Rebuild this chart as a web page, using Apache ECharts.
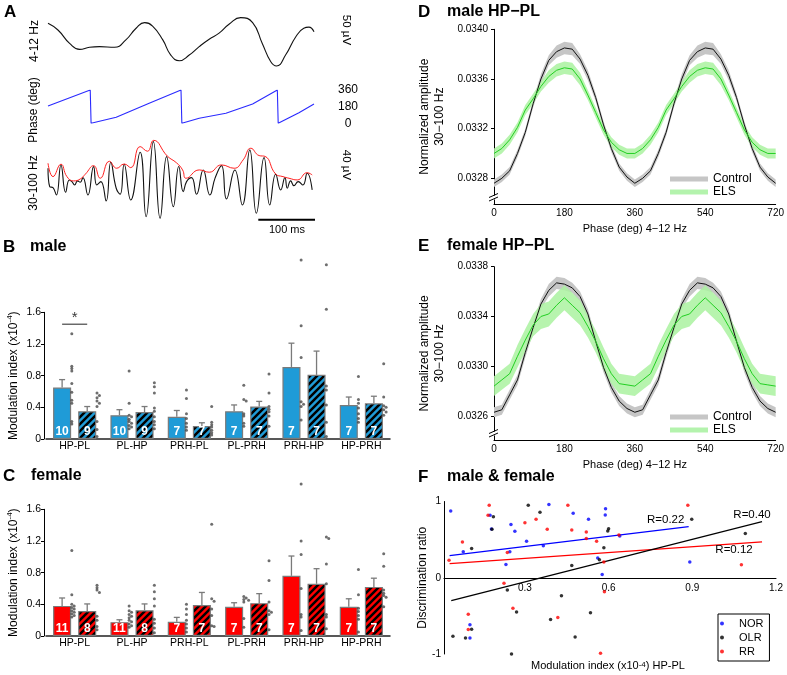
<!DOCTYPE html>
<html>
<head>
<meta charset="utf-8">
<script src="https://cdn.jsdelivr.net/npm/echarts@6.0.0/dist/echarts.min.js"></script>
<style>
html,body{margin:0;padding:0;background:#fff;}
#chart{width:787px;height:675px;}
</style>
</head>
<body>
<div id="chart"></div>
<script>
// ================= DATA =================
// ---- Panel A: example traces (time in ms, amplitude in µV, phase in deg)
const lowTimeMs = [0,17.5,38,55.6,73,90.6,117,137,155,170,184,202,216,231,248.5,266,283.6,301,319,339,360,377,392,402,418,436,450,459,468];
const lowUV     = [52,33,-5,-22,-16,-14,-16,5,38,54,44,5,-38,-54,-38,-14,7,24,50,68,54,-5,-57,-69,-38,14,38,41,28];
const phaseTimeMs = [0,74.3,75.8,120,178,234,235.5,266,313,360,403.5,405,441.5,468];
const phaseDeg    = [187,360,0,65,216,360,0,54,108,209,360,0,115,209];
const gammaTimeMs = [0,3.0,8.8,14.7,22.8,31.0,37.5,42.1,46.8,52.1,56.8,61.4,70.2,80.2,85.9,93.0,102.4,110.5,120.0,127.0,134.0,145.6,162.1,172.6,185.4,197.2,208.7,220.5,230.1,238.0,243.8,252.6,261.3,273.1,284.8,294.2,305.2,314.0,328.7,342.0,355.0,366.6,380.1,390.1,400.6,409.4,416.9,421.0,426.9,432.7,440.3,448.5,456.0,464.8];
const gammaUV     = [30.7,-3.1,-4.9,-18.4,36.8,-13.4,9.2,6.1,0,7.4,5.0,13.4,-18.4,33.7,0,6.1,-29.4,41.8,-6.1,-17.1,38.1,-27.6,60.2,-58.3,79.7,-61.3,52.1,-39.9,34.0,-12.3,6.1,13.4,-17.1,27.6,-18.4,13.4,35.5,-25.8,27.6,-36.8,64.4,-52.1,50.2,-36.8,19.7,-9.2,13.4,-6.1,7.4,-1.3,6.1,0,21.5,-9.2];
const envTimeMs = [0,8.8,22.8,33.3,45.1,56.8,65.6,80.2,91.9,108,121.0,134.0,145.6,162.1,175,186,210.0,226.3,236.8,242.8,266.1,283.6,305.2,327.5,343.3,356.8,371.4,381.9,400.6,413.4,424.0,438.5,456.0,464.8];
const envUV     = [39.9,15.3,38.1,15.3,7.4,11.0,19.7,35.5,12.3,43.5,30.7,38.5,31.8,70.5,62,82,53,40.5,27.6,12.3,27.6,23.4,36.8,30.7,46.0,67.5,54,52.5,20,15.3,12.3,9.2,22.5,18.4];
const phaseTicks = [0, 180, 360];
const scaleBarLowUV = 50, scaleBarGammaUV = 40, scaleBarMs = 100;

// ---- Panels B & C: modulation index (x10^-4)
const regions = ['HP-PL','PL-HP','PRH-PL','PL-PRH','PRH-HP','HP-PRH'];
const maleCtrlMean = [0.65,0.30,0.28,0.35,0.91,0.43];
const maleCtrlSem  = [0.10,0.07,0.08,0.08,0.30,0.10];
const maleElsMean  = [0.35,0.34,0.165,0.41,0.81,0.45];
const maleElsSem   = [0.06,0.07,0.04,0.065,0.30,0.09];
const maleCtrlN = [10,10,7,7,7,7];
const maleElsN  = [9,9,7,7,7,7];
const maleCtrlDots = [
  [1.33,0.92,0.89,0.86,0.70,0.59,0.49,0.45,0.22,0.19],
  [0.86,0.45,0.30,0.28,0.25,0.22,0.20,0.17,0.15,0.13],
  [0.62,0.51,0.32,0.26,0.20,0.15,0.11],
  [0.68,0.50,0.48,0.32,0.29,0.20,0.16],
  [2.26,1.43,1.03,0.47,0.44,0.41,0.24],
  [0.79,0.50,0.45,0.39,0.32,0.26,0.21]];
const maleElsDots = [
  [0.58,0.55,0.52,0.48,0.45,0.41,0.22,0.12,0.03],
  [0.71,0.66,0.58,0.39,0.35,0.28,0.22,0.18,0.13],
  [0.41,0.21,0.18,0.15,0.11,0.08,0.05],
  [0.82,0.58,0.41,0.375,0.345,0.29,0.16],
  [2.20,1.64,0.67,0.62,0.43,0.21,0.03],
  [0.95,0.53,0.42,0.40,0.37,0.34,0.30]];
const femCtrlMean = [0.38,0.175,0.18,0.37,0.76,0.37];
const femCtrlSem  = [0.10,0.03,0.055,0.05,0.25,0.10];
const femElsMean  = [0.315,0.325,0.39,0.415,0.66,0.62];
const femElsSem   = [0.09,0.08,0.16,0.12,0.19,0.11];
const femCtrlN = [11,11,7,7,7,7];
const femElsN  = [8,8,7,7,7,7];
const femCtrlDots = [
  [1.08,0.52,0.40,0.38,0.36,0.34,0.32,0.30,0.28,0.26,0.24],
  [0.38,0.32,0.30,0.27,0.25,0.23,0.20,0.18,0.15,0.13,0.11],
  [0.40,0.34,0.27,0.20,0.15,0.10,0.05],
  [0.50,0.48,0.46,0.43,0.22,0.11,0.45],
  [1.92,1.20,1.03,0.60,0.27,0.24,0.07],
  [0.84,0.52,0.35,0.31,0.26,0.21,0.05]];
const femElsDots = [
  [0.64,0.61,0.58,0.55,0.25,0.20,0.12,0.08],
  [0.64,0.56,0.47,0.38,0.21,0.16,0.10,0.04],
  [1.41,0.47,0.44,0.34,0.26,0.13,0.12],
  [0.95,0.70,0.43,0.32,0.30,0.27,0.08],
  [1.25,1.23,0.91,0.66,0.27,0.24,0.09],
  [1.04,0.88,0.58,0.54,0.51,0.49,0.37]];
const sigLevelMale = 1.45;

// ---- Panels D & E: normalized gamma amplitude by theta phase (one cycle, 20° bins)
const phaseBins = [0,20,40,60,80,100,120,140,160,180,200,220,240,260,280,300,320,340];
const dCtrlMean = [0.03276,0.03280,0.03286,0.03300,0.03317,0.03340,0.03360,0.03375,0.03382,0.03385,0.03384,0.03376,0.03363,0.03345,0.03323,0.03304,0.03289,0.03281];
const dCtrlSem  = [0.00003,0.00003,0.00003,0.00003,0.00003,0.00003,0.00004,0.00004,0.00005,0.00005,0.00005,0.00004,0.00004,0.00003,0.00003,0.00003,0.00003,0.00003];
const dElsMean  = [0.03300,0.03304,0.03311,0.03321,0.03335,0.03344,0.03354,0.03362,0.03367,0.03369,0.03368,0.03360,0.03347,0.03333,0.03319,0.03309,0.03303,0.03300];
const dElsSem   = [0.00004,0.00004,0.00004,0.00004,0.00004,0.00004,0.00004,0.00005,0.00005,0.00005,0.00005,0.00005,0.00004,0.00004,0.00004,0.00004,0.00004,0.00004];
const eCtrlMean = [0.03263,0.03265,0.03277,0.03289,0.03311,0.03331,0.03350,0.03361,0.03367,0.03366,0.03363,0.03356,0.03342,0.03320,0.03299,0.03283,0.03272,0.03266];
const eCtrlSem  = [0.00004,0.00004,0.00004,0.00004,0.00004,0.00004,0.00004,0.00005,0.00005,0.00005,0.00004,0.00004,0.00004,0.00004,0.00004,0.00004,0.00004,0.00004];
const eElsMean  = [0.03284,0.03289,0.03294,0.03308,0.03321,0.03333,0.03340,0.03342,0.03349,0.03355,0.03349,0.03343,0.03332,0.03320,0.03306,0.03294,0.03286,0.03285];
const eElsSem   = [0.00008,0.00008,0.00008,0.00009,0.00009,0.00009,0.00010,0.00010,0.00010,0.00010,0.00010,0.00010,0.00009,0.00009,0.00009,0.00008,0.00008,0.00008];
const dTicks = [0.0328,0.0332,0.0336,0.0340];
const eTicks = [0.0326,0.0330,0.0334,0.0338];

// ---- Panel F: discrimination ratio vs modulation index
const norX = [0.034,0.079,0.175,0.18,0.25,0.264,0.246,0.232,0.306,0.386,0.366,0.473,0.528,0.589,0.588,0.561,0.577,0.64,0.891,0.103,0.103];
const norY = [0.875,0.34,0.82,0.64,0.70,0.61,0.34,0.175,0.48,0.96,0.42,0.845,0.766,0.906,0.823,0.26,0.044,0.547,0.206,-0.616,-0.79];
const olrX = [0.187,0.182,0.109,0.312,0.354,0.898,1.09,0.597,0.60,0.583,0.567,0.468,0.237,0.27,0.431,0.392,0.535,0.48,0.109,0.087,0.042,0.252];
const olrY = [0.80,0.635,0.385,0.95,0.86,0.766,0.58,0.613,0.643,0.394,0.236,0.162,-0.16,-0.45,-0.237,-0.547,-0.46,-0.776,-0.677,-0.79,-0.767,-1.0];
const rrX  = [0.028,0.076,0.172,0.168,0.237,0.30,0.34,0.38,0.454,0.468,0.52,0.52,0.557,0.583,0.637,0.884,1.076,0.225,0.097,0.097,0.257,0.418,0.585,0.571];
const rrY  = [0.23,0.47,0.95,0.82,0.33,0.72,0.766,0.635,0.95,0.626,0.60,0.516,0.48,0.206,0.56,0.95,0.17,-0.073,-0.48,-0.68,-0.40,-0.52,-0.185,-0.99];
const fitNorX = [0.03,0.887],  fitNorY = [0.29,0.67];
const fitOlrX = [0.036,1.15],  fitOlrY = [-0.30,0.735];
const fitRrX  = [0.03,1.15],   fitRrY  = [0.185,0.47];
const rNor = 'R=0.22', rOlr = 'R=0.40', rRr = 'R=0.12';
const fXTicks = [0.3,0.6,0.9,1.2];

// ================= HELPERS =================
const FAM = '"Liberation Sans", Arial, Helvetica, sans-serif';
const zip = (a, b) => a.map((v, i) => [v, b[i]]);
const BLUE = '#1f9bd7', RED = '#ff0000', BORDER = '#7a7a7a', DOT = '#4a4a4a';
const BAR_W = 0.315, BAR_GAP = 0.39;
const BAR_OFF = BAR_W * (1 + BAR_GAP) / 2;
const CTRL_DOT_OFF = -0.05, ELS_DOT_OFF = 0.39, DOT_DX = 0.042, DOT_DY = 0.03;
const F_MIN_Y = -1, F_MAX_Y = 1, F_GRID_H = 152.5;

function hatch(bg) {
  const c = document.createElement('canvas');
  c.width = 7; c.height = 7;
  const g = c.getContext('2d');
  g.fillStyle = bg; g.fillRect(0, 0, 7, 7);
  g.strokeStyle = '#000'; g.lineWidth = 2.5;
  g.beginPath();
  for (let k = -1; k <= 1; k++) { g.moveTo(k * 7 - 1, 8); g.lineTo(k * 7 + 8, -1); }
  g.stroke();
  return { image: c, repeat: 'repeat' };
}
function swarm(vals, base) {
  const placed = [];
  return vals.slice().sort((a, b) => b - a).map(v => {
    let col = 0;
    while (placed.some(p => p.c === col && Math.abs(p.v - v) < DOT_DY)) col++;
    placed.push({ v, c: col });
    return [base + col * DOT_DX, v];
  });
}
function allDots(ctrl, els) {
  let out = [];
  ctrl.forEach((g, i) => { out = out.concat(swarm(g, i + CTRL_DOT_OFF)); });
  els.forEach((g, i) => { out = out.concat(swarm(g, i + ELS_DOT_OFF)); });
  return out;
}
function errSeries(xi, yi, means, sems, off) {
  return {
    type: 'custom', xAxisIndex: xi, yAxisIndex: yi, silent: true, z: 3,
    encode: { x: 0, y: 1 },
    data: means.map((m, i) => [i + off, m, m + sems[i]]),
    renderItem: (p, api) => {
      const b = api.coord([api.value(0), api.value(1)]);
      const t = api.coord([api.value(0), api.value(2)]);
      return { type: 'group', children: [
        { type: 'line', shape: { x1: b[0], y1: b[1], x2: t[0], y2: t[1] }, style: { stroke: BORDER, lineWidth: 1.3 } },
        { type: 'line', shape: { x1: t[0] - 3, y1: t[1], x2: t[0] + 3, y2: t[1] }, style: { stroke: BORDER, lineWidth: 1.3 } }
      ]};
    }
  };
}
function barPair(xi, yi, cm, em, cn, en, color) {
  const lbl = (arr) => ({ show: true, position: 'insideBottom', distance: 1, color: '#fff',
    fontWeight: 'bold', fontSize: 12, fontFamily: FAM, formatter: p => String(arr[p.dataIndex]) });
  return [
    { type: 'bar', xAxisIndex: xi, yAxisIndex: yi, data: cm, barWidth: (BAR_W * 100) + '%', barGap: (BAR_GAP * 100) + '%',
      itemStyle: { color: color, borderColor: BORDER, borderWidth: 1.2 }, label: lbl(cn), silent: true },
    { type: 'bar', xAxisIndex: xi, yAxisIndex: yi, data: em, barWidth: (BAR_W * 100) + '%', barGap: (BAR_GAP * 100) + '%',
      itemStyle: { color: hatch(color), borderColor: BORDER, borderWidth: 1.2 }, label: lbl(en), silent: true }
  ];
}
const full = (arr) => arr.concat(arr, [arr[0]]);
const phaseFull = phaseBins.concat(phaseBins.map(p => p + 360), [720]);
function bandSeries(name, xi, yi, mean, sem, color) {
  const m = full(mean), s = full(sem);
  return {
    type: 'custom', name, xAxisIndex: xi, yAxisIndex: yi, silent: true, z: 1,
    itemStyle: { color }, encode: { x: 0, y: 1 }, data: [[phaseFull[0], m[0]]],
    renderItem: (p, api) => {
      const pts = [];
      for (let i = 0; i < phaseFull.length; i++) pts.push(api.coord([phaseFull[i], m[i] + s[i]]));
      for (let i = phaseFull.length - 1; i >= 0; i--) pts.push(api.coord([phaseFull[i], m[i] - s[i]]));
      return { type: 'polygon', shape: { points: pts }, style: { fill: color } };
    }
  };
}
function meanLine(xi, yi, mean, color, w) {
  return { type: 'line', xAxisIndex: xi, yAxisIndex: yi, data: zip(phaseFull, full(mean)), showSymbol: false,
    symbol: 'none', lineStyle: { color, width: w }, silent: true, z: 3 };
}
const hiddenVal = (gi, min, max) => ({ gridIndex: gi, type: 'value', min, max, show: false, splitLine: { show: false } });
const supRich = { s: { fontSize: 8, verticalAlign: 'top', lineHeight: 8, fontFamily: FAM } };

function miYAxis(gi) {
  return { gridIndex: gi, type: 'value', min: 0, max: 1.6, interval: 0.4, offset: 2,
    axisLine: { show: true, onZero: false, lineStyle: { color: '#000', width: 1 } },
    axisTick: { show: true, length: 3, lineStyle: { color: '#000' } },
    axisLabel: { fontSize: 10.5, color: '#000', margin: 3, fontFamily: FAM, formatter: v => v === 0 ? '0' : v.toFixed(1) },
    splitLine: { show: false },
    name: 'Modulation index (x10{s|-4})', nameLocation: 'middle', nameGap: 22,
    nameTextStyle: { fontSize: 12, color: '#000', fontFamily: FAM, lineHeight: 16, rich: supRich } };
}
function catXAxis(gi) {
  return { gridIndex: gi, type: 'category', data: regions,
    axisLine: { onZero: false, lineStyle: { color: '#222', width: 1.5 } }, axisTick: { show: false },
    axisLabel: { fontSize: 10.5, color: '#000', margin: 2, interval: 0, fontFamily: FAM } };
}
function phaseXAxis(gi) {
  return { gridIndex: gi, type: 'value', min: 0, max: 720, interval: 180,
    axisLine: { onZero: false, lineStyle: { color: '#000' } }, axisTick: { show: false },
    axisLabel: { fontSize: 10, color: '#000', margin: 4, fontFamily: FAM }, splitLine: { show: false },
    name: 'Phase (deg) 4\u221212 Hz', nameLocation: 'middle', nameGap: 19,
    nameTextStyle: { fontSize: 11, color: '#000', fontFamily: FAM } };
}
function ampYAxis(gi, min, max, ticks) {
  return { gridIndex: gi, type: 'value', min, max,
    axisLine: { show: true, onZero: false, lineStyle: { color: '#000' } },
    axisTick: { show: true, length: 3, customValues: ticks, lineStyle: { color: '#000' } },
    axisLabel: { customValues: ticks, fontSize: 10, color: '#000', margin: 6, fontFamily: FAM, formatter: v => v.toFixed(4) },
    splitLine: { show: false },
    name: 'Normalized amplitude\n30\u2212100 Hz', nameLocation: 'middle', nameGap: 47,
    nameTextStyle: { fontSize: 12, color: '#000', fontFamily: FAM, lineHeight: 15 } };
}
function phaseLegend(top) {
  return { left: 670, top, orient: 'vertical', padding: 0, itemGap: 0, itemWidth: 38, itemHeight: 5, icon: 'rect',
    selectedMode: false, textStyle: { fontSize: 12, color: '#000', lineHeight: 13, fontFamily: FAM },
    data: [{ name: 'Control', itemStyle: { color: '#c6c6c6' } }, { name: 'ELS', itemStyle: { color: '#b4f3ad' } }] };
}
function fitLine(xs, ys, color, text, offset) {
  return { type: 'line', xAxisIndex: 9, yAxisIndex: 7, data: zip(xs, ys), symbol: 'none', silent: true,
    lineStyle: { color, width: 1.2 },
    endLabel: { show: true, formatter: text, align: 'center', verticalAlign: 'middle', distance: 0, offset,
      fontSize: 11.5, color: '#000', fontFamily: FAM } };
}
function scatterF(name, xs, ys, color) {
  return { type: 'scatter', name, xAxisIndex: 9, yAxisIndex: 7, data: zip(xs, ys), symbolSize: 3.5,
    itemStyle: { color }, silent: true, z: 4 };
}

// ================= OPTION =================
const option = {
  animation: false,
  backgroundColor: '#fff',
  textStyle: { fontFamily: FAM },
  grid: [
    { left: 48, width: 266, top: 13.4, height: 56.5 },   // A low
    { left: 48, width: 266, top: 90, height: 33.3 },     // A phase
    { left: 48, width: 266, top: 136, height: 87 },      // A gamma
    { left: 46, width: 344, top: 312.3, height: 126.7 }, // B
    { left: 46, width: 344, top: 509.3, height: 126.7 }, // C
    { left: 494, width: 282, top: 29.3, height: 174.7 }, // D
    { left: 494, width: 282, top: 266.7, height: 173.3 },// E
    { left: 444, width: 332, top: 501.5, height: F_GRID_H } // F
  ],
  xAxis: [
    hiddenVal(0, 0, 468), hiddenVal(1, 0, 468), hiddenVal(2, 0, 468),
    catXAxis(3), hiddenVal(3, -0.5, 5.5),
    catXAxis(4), hiddenVal(4, -0.5, 5.5),
    phaseXAxis(5), phaseXAxis(6),
    { gridIndex: 7, type: 'value', min: 0.01, max: 1.2,
      offset: -F_GRID_H * (0 - F_MIN_Y) / (F_MAX_Y - F_MIN_Y),
      axisLine: { onZero: false, lineStyle: { color: '#000' } }, axisTick: { show: false },
      axisLabel: { customValues: fXTicks, fontSize: 10, color: '#000', margin: 5, fontFamily: FAM, formatter: v => v.toFixed(1) },
      splitLine: { show: false } }
  ],
  yAxis: [
    hiddenVal(0, -80, 80),
    { gridIndex: 1, type: 'value', position: 'right', min: 0, max: 360,
      axisLine: { show: false }, axisTick: { show: false }, splitLine: { show: false },
      axisLabel: { customValues: phaseTicks, align: 'center', margin: 34, fontSize: 12, color: '#000', fontFamily: FAM } },
    hiddenVal(2, -70, 90),
    miYAxis(3), miYAxis(4),
    ampYAxis(5, 0.032593, 0.0340, dTicks),
    ampYAxis(6, 0.032407, 0.0338, eTicks),
    { gridIndex: 7, type: 'value', min: F_MIN_Y, max: F_MAX_Y, interval: 1,
      axisLine: { show: true, onZero: false, lineStyle: { color: '#000' } }, axisTick: { show: false },
      axisLabel: { fontSize: 10, color: '#000', margin: 3, fontFamily: FAM }, splitLine: { show: false },
      name: 'Discrimination ratio', nameLocation: 'middle', nameGap: 14,
      nameTextStyle: { fontSize: 12, color: '#000', fontFamily: FAM } }
  ],
  legend: [
    phaseLegend(172.5), phaseLegend(410.5),
    { left: 718, top: 614, orient: 'vertical', padding: [3, 6, 3, 2], itemGap: 1, itemWidth: 4, itemHeight: 4,
      icon: 'circle', selectedMode: false, borderColor: '#000', borderWidth: 1,
      textStyle: { fontSize: 11, color: '#000', lineHeight: 13, padding: [0, 0, 0, 10], fontFamily: FAM },
      data: ['NOR', 'OLR', 'RR'] }
  ],
  series: [
    // Panel A
    { type: 'line', xAxisIndex: 0, yAxisIndex: 0, data: zip(lowTimeMs, lowUV), smooth: 0.5, symbol: 'none', silent: true, lineStyle: { color: '#111', width: 1.1 } },
    { type: 'line', xAxisIndex: 1, yAxisIndex: 1, data: zip(phaseTimeMs, phaseDeg), symbol: 'none', silent: true, lineStyle: { color: '#2a2aff', width: 1.1 } },
    { type: 'line', xAxisIndex: 2, yAxisIndex: 2, data: zip(gammaTimeMs, gammaUV), smooth: 0.5, symbol: 'none', silent: true, lineStyle: { color: '#111', width: 1.1 }, z: 2 },
    { type: 'line', xAxisIndex: 2, yAxisIndex: 2, data: zip(envTimeMs, envUV), smooth: 0.5, symbol: 'none', silent: true, lineStyle: { color: '#ff2020', width: 1 }, z: 3 },
    { type: 'line', xAxisIndex: 0, yAxisIndex: 0, data: [[500, 5], [500, 5 + scaleBarLowUV]], symbol: 'none', clip: false, silent: true, lineStyle: { color: '#000', width: 2 } },
    { type: 'line', xAxisIndex: 2, yAxisIndex: 2, data: [[500, 17], [500, 17 + scaleBarGammaUV]], symbol: 'none', clip: false, silent: true, lineStyle: { color: '#000', width: 2 } },
    { type: 'line', xAxisIndex: 2, yAxisIndex: 2, data: [[370, -64], [370 + scaleBarMs, -64]], symbol: 'none', clip: false, silent: true, lineStyle: { color: '#000', width: 2 } },
    // Panel B
    ...barPair(3, 3, maleCtrlMean, maleElsMean, maleCtrlN, maleElsN, BLUE),
    errSeries(4, 3, maleCtrlMean, maleCtrlSem, -BAR_OFF),
    errSeries(4, 3, maleElsMean, maleElsSem, BAR_OFF),
    { type: 'scatter', xAxisIndex: 4, yAxisIndex: 3, data: allDots(maleCtrlDots, maleElsDots), symbolSize: 3, clip: false, silent: true, itemStyle: { color: DOT }, z: 4 },
    { type: 'line', xAxisIndex: 4, yAxisIndex: 3, data: [[-BAR_OFF, sigLevelMale], [BAR_OFF, sigLevelMale]], symbol: 'none', silent: true, lineStyle: { color: '#222', width: 1 } },
    { type: 'scatter', xAxisIndex: 4, yAxisIndex: 3, data: [[0, sigLevelMale]], symbolSize: 0, silent: true,
      label: { show: true, formatter: '*', position: 'top', distance: -1, fontSize: 15, color: '#000', fontFamily: FAM } },
    // Panel C
    ...barPair(5, 4, femCtrlMean, femElsMean, femCtrlN, femElsN, RED),
    errSeries(6, 4, femCtrlMean, femCtrlSem, -BAR_OFF),
    errSeries(6, 4, femElsMean, femElsSem, BAR_OFF),
    { type: 'scatter', xAxisIndex: 6, yAxisIndex: 4, data: allDots(femCtrlDots, femElsDots), symbolSize: 3, clip: false, silent: true, itemStyle: { color: DOT }, z: 4 },
    // Panel D
    bandSeries('Control', 7, 5, dCtrlMean, dCtrlSem, '#c6c6c6'),
    bandSeries('ELS', 7, 5, dElsMean, dElsSem, 'rgba(170,242,160,0.85)'),
    meanLine(7, 5, dCtrlMean, '#111', 1),
    meanLine(7, 5, dElsMean, '#22d022', 1),
    // Panel E
    bandSeries('Control', 8, 6, eCtrlMean, eCtrlSem, '#c6c6c6'),
    bandSeries('ELS', 8, 6, eElsMean, eElsSem, 'rgba(170,242,160,0.85)'),
    meanLine(8, 6, eCtrlMean, '#111', 1),
    meanLine(8, 6, eElsMean, '#22d022', 1),
    // Panel F
    scatterF('NOR', norX, norY, '#0000ff'),
    scatterF('OLR', olrX, olrY, '#000000'),
    scatterF('RR', rrX, rrY, '#ff0000'),
    fitLine(fitNorX, fitNorY, '#0000ff', rNor, [-23, -7]),
    fitLine(fitRrX, fitRrY, '#ff0000', rRr, [-28, 8]),
    fitLine(fitOlrX, fitOlrY, '#000000', rOlr, [-10, -7])
  ]
};

const chart = echarts.init(document.getElementById('chart'), null, { renderer: 'canvas', width: 787, height: 675 });
chart.setOption(option);

// ================= TEXT & DECORATION =================
function T(text, x, y, o) {
  o = o || {};
  return { type: 'text', x, y, rotation: o.rot || 0, z: 100, silent: true,
    style: { text, fill: '#000', font: (o.w || 'normal') + ' ' + (o.s || 12) + 'px ' + FAM,
      align: o.a || 'center', verticalAlign: 'middle', rich: o.rich } };
}
const g = [
  T('A', 4, 12.5, { s: 17, w: 'bold', a: 'left' }),
  T('4-12 Hz', 35, 41, { rot: Math.PI / 2 }),
  T('Phase (deg)', 34, 110, { rot: Math.PI / 2 }),
  T('30-100 Hz', 34, 183, { rot: Math.PI / 2 }),
  T('50 \u00b5V', 346, 30, { rot: -Math.PI / 2, s: 11.5 }),
  T('40 \u00b5V', 346, 165, { rot: -Math.PI / 2, s: 11.5 }),
  T('100 ms', 287, 230, { s: 11 }),
  T('B', 3, 247, { s: 17, w: 'bold', a: 'left' }),
  T('male', 30, 247, { s: 16, w: 'bold', a: 'left' }),
  T('C', 3, 476, { s: 17, w: 'bold', a: 'left' }),
  T('female', 31, 476, { s: 16, w: 'bold', a: 'left' }),
  T('D', 418, 12, { s: 17, w: 'bold', a: 'left' }),
  T('male HP\u2212PL', 447, 12, { s: 16, w: 'bold', a: 'left' }),
  T('E', 418, 246, { s: 17, w: 'bold', a: 'left' }),
  T('female HP\u2212PL', 447, 246, { s: 16, w: 'bold', a: 'left' }),
  T('F', 418, 477, { s: 17, w: 'bold', a: 'left' }),
  T('male & female', 447, 477, { s: 16, w: 'bold', a: 'left' }),
  T('Modulation index (x10{s|-4}) HP-PL', 608, 666, { s: 11, rich: supRich })
];
[5, 6].forEach(gi => {
  const yAx = option.yAxis[gi];
  const p = chart.convertToPixel({ gridIndex: gi }, [0, yAx.min]);
  const x0 = p[0], y0 = p[1];
  g.push({ type: 'rect', z: 100, silent: true, shape: { x: x0 - 2, y: y0 - 8.5, width: 4, height: 4 }, style: { fill: '#fff' } });
  g.push({ type: 'line', z: 101, silent: true, shape: { x1: x0 - 5, y1: y0 - 3, x2: x0 + 4, y2: y0 - 7 }, style: { stroke: '#000', lineWidth: 1 } });
  g.push({ type: 'line', z: 101, silent: true, shape: { x1: x0 - 5, y1: y0 - 6.5, x2: x0 + 4, y2: y0 - 10.5 }, style: { stroke: '#000', lineWidth: 1 } });
});
chart.setOption({ graphic: g });
</script>
</body>
</html>
